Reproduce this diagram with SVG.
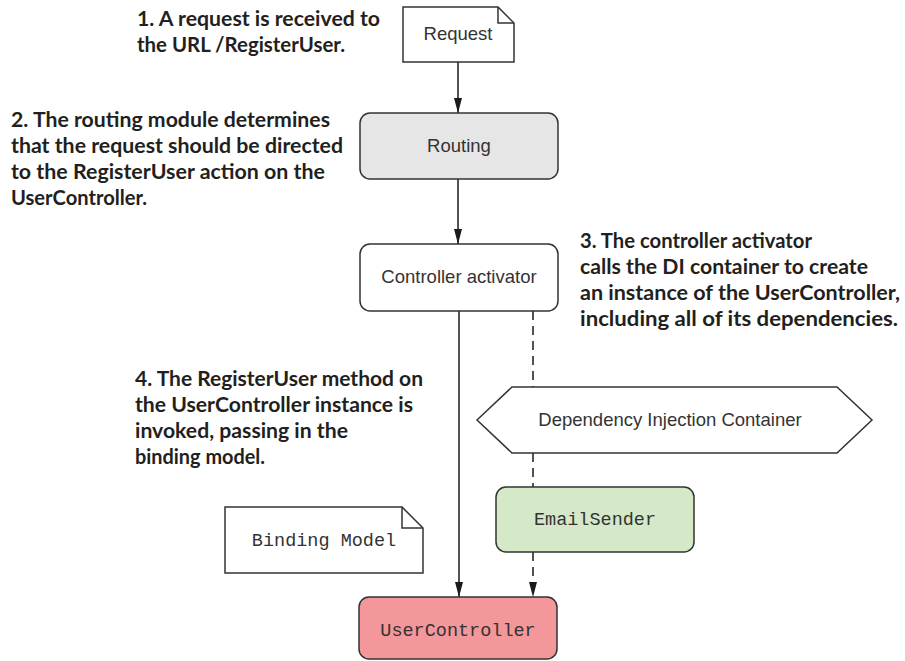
<svg xmlns="http://www.w3.org/2000/svg" width="905" height="661" viewBox="0 0 905 661">
<defs>
<marker id="arr" markerWidth="16" markerHeight="10" refX="15" refY="5" orient="auto" markerUnits="userSpaceOnUse">
<path d="M0,1 L15,5 L0,9 Z" fill="#1a1a1a"/>
</marker>
<style>
.box{stroke:#333;stroke-width:1.5}
.t{font-family:"Liberation Sans",Arial,sans-serif;font-size:18.5px;fill:#333;text-anchor:middle}
.m{font-family:"Liberation Mono","Courier New",monospace;font-size:18.5px;fill:#333;text-anchor:middle}
.lab{font-family:Lato,"Open Sans",sans-serif;font-weight:bold;font-size:21px;fill:#231f20}
.ln{stroke:#1a1a1a;stroke-width:1.5;fill:none}
.dash{stroke-dasharray:9,6}
</style>
</defs>
<rect width="905" height="661" fill="#fff"/>

<g id="label1" class="lab">
<text x="137" y="26" textLength="243" lengthAdjust="spacingAndGlyphs">1. A request is received to</text>
<text x="137" y="52" textLength="208" lengthAdjust="spacingAndGlyphs">the URL /RegisterUser.</text>
</g>
<g id="label2" class="lab">
<text x="11" y="127" textLength="319" lengthAdjust="spacingAndGlyphs">2. The routing module determines</text>
<text x="11" y="153" textLength="332" lengthAdjust="spacingAndGlyphs">that the request should be directed</text>
<text x="11" y="179" textLength="314" lengthAdjust="spacingAndGlyphs">to the RegisterUser action on the</text>
<text x="11" y="205" textLength="136" lengthAdjust="spacingAndGlyphs">UserController.</text>
</g>
<g id="label3" class="lab">
<text x="580" y="248" textLength="232" lengthAdjust="spacingAndGlyphs">3. The controller activator</text>
<text x="580" y="274" textLength="288" lengthAdjust="spacingAndGlyphs">calls the DI container to create</text>
<text x="580" y="300" textLength="320" lengthAdjust="spacingAndGlyphs">an instance of the UserController,</text>
<text x="580" y="326" textLength="318" lengthAdjust="spacingAndGlyphs">including all of its dependencies.</text>
</g>
<g id="label4" class="lab">
<text x="135" y="386" textLength="288" lengthAdjust="spacingAndGlyphs">4. The RegisterUser method on</text>
<text x="135" y="412" textLength="278" lengthAdjust="spacingAndGlyphs">the UserController instance is</text>
<text x="135" y="438" textLength="213" lengthAdjust="spacingAndGlyphs">invoked, passing in the</text>
<text x="135" y="464" textLength="130" lengthAdjust="spacingAndGlyphs">binding model.</text>
</g>

<g id="connectors">
<line class="ln" x1="458" y1="62" x2="458" y2="113" marker-end="url(#arr)"/>
<line class="ln" x1="458" y1="179" x2="458" y2="244" marker-end="url(#arr)"/>
<line class="ln" x1="459" y1="311" x2="459" y2="597" marker-end="url(#arr)"/>
<line class="ln dash" x1="533" y1="311" x2="533" y2="387"/>
<line class="ln dash" x1="533" y1="453" x2="533" y2="487"/>
<line class="ln dash" x1="533" y1="552" x2="533" y2="597" marker-end="url(#arr)"/>
</g>

<g id="request">
<path class="box" d="M403,7 H498 L514,23 V62 H403 Z" fill="#fff"/>
<path class="box" d="M498,7 V23 H514" fill="none"/>
<text class="t" x="458" y="40">Request</text>
</g>
<g id="routing">
<rect class="box" x="360" y="113" width="198" height="66" rx="10" fill="#e6e6e6"/>
<text class="t" x="459" y="152">Routing</text>
</g>
<g id="controller-activator">
<rect class="box" x="360" y="244" width="198" height="67" rx="10" fill="#fff"/>
<text class="t" x="459" y="283">Controller activator</text>
</g>
<g id="di-container">
<polygon class="box" points="477,420 512,387 837,387 872,420 837,453 512,453" fill="#fff"/>
<text class="t" x="670" y="426">Dependency Injection Container</text>
</g>
<g id="email-sender">
<rect class="box" x="496" y="487" width="198" height="65" rx="10" fill="#d5e8c8"/>
<text class="m" x="595" y="525">EmailSender</text>
</g>
<g id="binding-model">
<path class="box" d="M225,507 H402 L423,528 V573 H225 Z" fill="#fff"/>
<path class="box" d="M402,507 V528 H423" fill="none"/>
<text class="m" x="324" y="546">Binding Model</text>
</g>
<g id="user-controller">
<rect class="box" x="359" y="597" width="198" height="62" rx="10" fill="#f4979a"/>
<text class="m" x="458" y="636">UserController</text>
</g>
</svg>
